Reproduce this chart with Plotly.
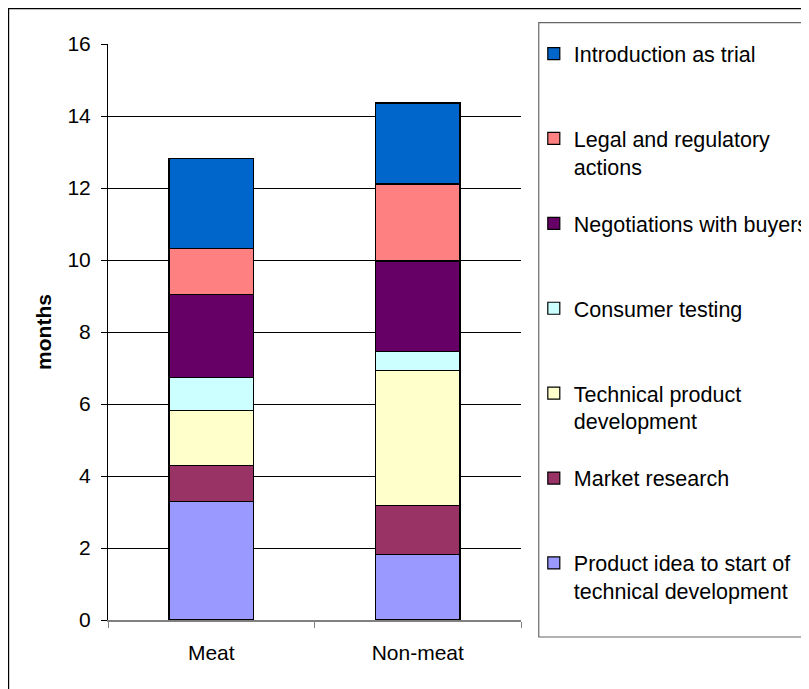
import plotly.graph_objects as go

# Categories (x axis)
categories = ['Meat', 'Non-meat']

# Stage names, bottom of the stack first
stages = ['Product idea to start of technical development',
          'Market research',
          'Technical product development',
          'Consumer testing',
          'Negotiations with buyers',
          'Legal and regulatory actions',
          'Introduction as trial']

# Legend labels (wrapped the way the original legend does it)
legend_labels = ['Product idea to start of<br>technical development',
                 'Market research<br>&nbsp;',
                 'Technical product<br>development',
                 'Consumer testing<br>&nbsp;',
                 'Negotiations with buyers<br>&nbsp;',
                 'Legal and regulatory<br>actions',
                 'Introduction as trial<br>&nbsp;']

# Months per stage
meat_months = [3.30, 1.00, 1.51, 0.93, 2.31, 1.26, 2.52]
nonmeat_months = [1.82, 1.35, 3.77, 0.51, 2.52, 2.14, 2.25]

colors = ['#9999FF', '#993366', '#FFFFCC', '#CCFFFF', '#660066', '#FF8080', '#0066CC']

font_family = 'Liberation Sans, Arial, sans-serif'

fig = go.Figure()

for i, stage in enumerate(stages):
    fig.add_trace(go.Bar(
        x=categories,
        y=[meat_months[i], nonmeat_months[i]],
        name=legend_labels[i],
        legendgroup=stage,
        legendrank=len(stages) - i,  # top of the stack first in the legend
        marker=dict(color=colors[i], line=dict(color='black', width=1.2)),
        hovertext=stage,
    ))

# note: the page body has an 8px margin, so the margins are 8px smaller
fig.update_layout(
    barmode='stack',
    bargap=0.59,
    width=809,
    height=689,
    paper_bgcolor='white',
    plot_bgcolor='white',
    font=dict(family=font_family, size=21, color='black'),
    margin=dict(l=100, r=296, t=36, b=77, autoexpand=False),
    legend=dict(
        x=1.031, y=1.019,
        xanchor='left', yanchor='top',
        traceorder='grouped',
        tracegroupgap=26,
        valign='top',
        maxheight=680,
        bgcolor='rgba(0,0,0,0)',
        borderwidth=0,
        font=dict(family=font_family, size=21.5, color='black'),
    ),
    showlegend=True,
)

fig.update_yaxes(
    range=[0, 16],
    dtick=2,
    showgrid=True,
    gridcolor='black',
    gridwidth=1,
    zeroline=False,
    showline=True,
    linecolor='black',
    linewidth=1,
    ticks='outside',
    ticklen=6,
    tickcolor='black',
    ticklabelstandoff=6,
    title=dict(text='<b>months</b>', standoff=10, font=dict(size=21)),
)

fig.update_xaxes(
    showline=True,
    linecolor='#808080',
    linewidth=1.5,
    ticks='outside',
    tickson='boundaries',
    ticklen=6,
    tickcolor='#808080',
    ticklabelstandoff=13,
)

# Legend frame and outer chart frame
fig.add_shape(type='rect', xref='paper', yref='paper',
              x0=1.043, x1=1.8, y0=-0.0295, y1=1.037,
              line=dict(color='#666666', width=1.2))
fig.add_shape(type='rect', xref='paper', yref='paper',
              x0=-0.2407, x1=2.0, y0=-0.5, y1=1.0615,
              line=dict(color='black', width=1.2))

fig.write_html("out.html")
